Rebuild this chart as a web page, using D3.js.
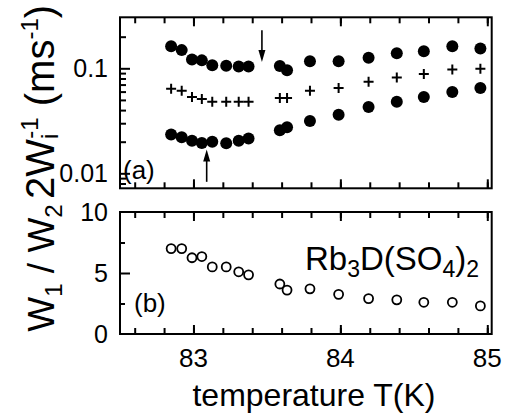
<!DOCTYPE html>
<html>
<head>
<meta charset="utf-8">
<script src="https://d3js.org/d3.v7.min.js"></script>
<style>
  body { margin: 0; background: #fff; }
  text { font-family: "Liberation Sans", Arial, sans-serif; fill: #000; }
</style>
</head>
<body>
<div id="chart"></div>
<script>
// temperatures (K) of the measured points
var temps = [82.848, 82.920, 82.990, 83.057, 83.128, 83.223, 83.308, 83.375,
             83.588, 83.637, 83.793, 83.988, 84.192, 84.384, 84.568, 84.762, 84.953];
// panel (a): 2W_i^-1 in ms^-1
var w1 = [0.162, 0.149, 0.121, 0.119, 0.107, 0.106, 0.104, 0.104,
          0.105, 0.096, 0.117, 0.117, 0.126, 0.139, 0.145, 0.162, 0.154];
var wMean = [0.064, 0.061, 0.0533, 0.051, 0.0481, 0.0481, 0.0481, 0.0481,
             0.0521, 0.0521, 0.0612, 0.0649, 0.0745, 0.0817, 0.0883, 0.0972, 0.0993];
var w2 = [0.0234, 0.0220, 0.0204, 0.0194, 0.0200, 0.0193, 0.0204, 0.0215,
          0.0257, 0.0274, 0.0315, 0.0362, 0.0428, 0.0481, 0.0533, 0.0595, 0.0649];
// panel (b): W1 / W2
var ratio = [7.0, 7.0, 6.25, 6.35, 5.5, 5.5, 5.1, 4.85,
             4.1, 3.6, 3.7, 3.25, 2.9, 2.8, 2.6, 2.6, 2.3];
// arrows in panel (a): [T, from, to]
var arrows = [[83.466, 0.23, 0.115], [83.09, 0.0083, 0.0169]];
var xTickLabels = [83, 84, 85];
var yTickLabelsA = [0.1, 0.01];
var yTickLabelsB = [0, 5, 10];

var svgWidth = 506, svgHeight = 420;
var svg = d3.select("#chart").append("svg")
  .attr("width", svgWidth)
  .attr("height", svgHeight);

var left = 120, right = 491.7;
var x = d3.scaleLinear().domain([82.5, 85.03]).range([left, right]);
var yA = d3.scaleLog().domain([0.0072, 0.306]).range([188.3, 17.3]);
var yB = d3.scaleLinear().domain([0, 10]).range([334, 212]);

var xMinor = d3.range(82.6, 85.01, 0.2).map(d => +d.toFixed(1));
var xMajor = [83, 84, 85];

function xTicks(g, y0, y1) {
  // inward ticks on bottom and top edges
  g.append("g").attr("transform", `translate(0,${y0})`)
    .call(d3.axisBottom(x).tickValues(xMinor).tickSize(-6).tickFormat(""));
  g.append("g").attr("transform", `translate(0,${y0})`)
    .call(d3.axisBottom(x).tickValues(xMajor).tickSize(-9).tickFormat(""));
  g.append("g").attr("transform", `translate(0,${y1})`)
    .call(d3.axisTop(x).tickValues(xMinor).tickSize(-6).tickFormat(""));
  g.append("g").attr("transform", `translate(0,${y1})`)
    .call(d3.axisTop(x).tickValues(xMajor).tickSize(-9).tickFormat(""));
}

// ---------- panel (a)
var gA = svg.append("g");
xTicks(gA, yA.range()[0], yA.range()[1]);

var logMinor = [0.008, 0.009, 0.02, 0.03, 0.04, 0.05, 0.06, 0.07, 0.08, 0.09, 0.2];
gA.append("g").attr("transform", `translate(${left},0)`)
  .call(d3.axisLeft(yA).tickValues(logMinor).tickSize(-6).tickFormat(""));
gA.append("g").attr("transform", `translate(${left},0)`)
  .call(d3.axisLeft(yA).tickValues(yTickLabelsA).tickSize(-10).tickFormat(""));

gA.selectAll(".ylab")
  .data(yTickLabelsA)
  .enter().append("text")
  .attr("x", left - 12)
  .attr("y", d => yA(d))
  .attr("dy", "0.36em")
  .attr("text-anchor", "end")
  .attr("font-size", 25)
  .text(d => d);

// frame
gA.append("rect")
  .attr("x", left).attr("y", yA.range()[1])
  .attr("width", right - left).attr("height", yA.range()[0] - yA.range()[1])
  .attr("fill", "none").attr("stroke", "#000").attr("stroke-width", 2);

gA.selectAll(".up")
  .data(temps).enter().append("circle")
  .attr("cx", d => x(d))
  .attr("cy", (d, i) => yA(w1[i]))
  .attr("r", 6)
  .attr("fill", "#000");

gA.selectAll(".lo")
  .data(temps).enter().append("circle")
  .attr("cx", d => x(d))
  .attr("cy", (d, i) => yA(w2[i]))
  .attr("r", 6)
  .attr("fill", "#000");

var cs = 5;
gA.selectAll(".cross")
  .data(temps).enter().append("path")
  .attr("d", (d, i) => {
    var cx = x(d), cy = yA(wMean[i]);
    return `M${cx - cs},${cy}H${cx + cs}M${cx},${cy - cs}V${cy + cs}`;
  })
  .attr("stroke", "#000")
  .attr("stroke-width", 2);

// arrows
arrows.forEach(function(a) {
  var ax = x(a[0]), y0 = yA(a[1]), y1 = yA(a[2]);
  var dir = y1 > y0 ? 1 : -1;
  gA.append("line")
    .attr("x1", ax).attr("x2", ax)
    .attr("y1", y0).attr("y2", y1 - dir * 8)
    .attr("stroke", "#000").attr("stroke-width", 1.6);
  gA.append("path")
    .attr("d", `M${ax - 3.5},${y1 - dir * 12}L${ax},${y1}L${ax + 3.5},${y1 - dir * 12}Z`)
    .attr("fill", "#000");
});

gA.append("text")
  .attr("x", 123).attr("y", 179)
  .attr("font-size", 26)
  .text("(a)");

// y label (a)
var labA = svg.append("text")
  .attr("transform", "translate(54,102) rotate(-90)")
  .attr("text-anchor", "middle")
  .attr("font-size", 40);
labA.append("tspan").text("2W");
labA.append("tspan").attr("font-size", 24).attr("dy", 4).text("i");
labA.append("tspan").attr("font-size", 24).attr("dx", -5).attr("dy", -20).text("-1");
labA.append("tspan").attr("dy", 16).text(" (ms");
labA.append("tspan").attr("font-size", 24).attr("dy", -16).text("-1");
labA.append("tspan").attr("dy", 16).text(")");

// ---------- panel (b)
var gB = svg.append("g");
xTicks(gB, yB.range()[0], yB.range()[1]);

gB.append("g").attr("transform", `translate(${left},0)`)
  .call(d3.axisLeft(yB).tickValues([2.5, 7.5]).tickSize(-5).tickFormat(""));
gB.append("g").attr("transform", `translate(${left},0)`)
  .call(d3.axisLeft(yB).tickValues([5]).tickSize(-10).tickFormat(""));

gB.selectAll(".ylab")
  .data(yTickLabelsB)
  .enter().append("text")
  .attr("x", left - 12)
  .attr("y", d => yB(d))
  .attr("dy", "0.36em")
  .attr("text-anchor", "end")
  .attr("font-size", 25)
  .text(d => d);

gB.append("rect")
  .attr("x", left).attr("y", yB.range()[1])
  .attr("width", right - left).attr("height", yB.range()[0] - yB.range()[1])
  .attr("fill", "none").attr("stroke", "#000").attr("stroke-width", 2);

gB.selectAll(".ratio")
  .data(temps).enter().append("circle")
  .attr("cx", d => x(d))
  .attr("cy", (d, i) => yB(ratio[i]))
  .attr("r", 4.5)
  .attr("fill", "none")
  .attr("stroke", "#000")
  .attr("stroke-width", 1.8);

gB.append("text")
  .attr("x", 134).attr("y", 312)
  .attr("font-size", 26)
  .text("(b)");

var comp = gB.append("text")
  .attr("x", 305).attr("y", 270)
  .attr("font-size", 33);
comp.append("tspan").text("Rb");
comp.append("tspan").attr("font-size", 23).attr("dy", 7).text("3");
comp.append("tspan").attr("dy", -7).text("D(SO");
comp.append("tspan").attr("font-size", 23).attr("dy", 7).text("4");
comp.append("tspan").attr("dy", -7).text(")");
comp.append("tspan").attr("font-size", 23).attr("dy", 7).text("2");

// y label (b)
var labB = svg.append("text")
  .attr("transform", "translate(54,268) rotate(-90)")
  .attr("text-anchor", "middle")
  .attr("font-size", 37);
labB.append("tspan").text("W");
labB.append("tspan").attr("font-size", 24).attr("dy", 8).text("1");
labB.append("tspan").attr("dy", -8).text(" / W");
labB.append("tspan").attr("font-size", 24).attr("dy", 8).text("2");

// x tick labels and title
svg.selectAll(".xlab")
  .data(xTickLabels)
  .enter().append("text")
  .attr("x", d => x(d))
  .attr("y", 367)
  .attr("text-anchor", "middle")
  .attr("font-size", 26)
  .text(d => d);

svg.append("text")
  .attr("x", 314).attr("y", 406)
  .attr("text-anchor", "middle")
  .attr("font-size", 32)
  .text("temperature T(K)");

// remove axis domain lines, frame is drawn separately
svg.selectAll(".domain").remove();
svg.selectAll(".tick line").attr("stroke-width", 2);
</script>
</body>
</html>
